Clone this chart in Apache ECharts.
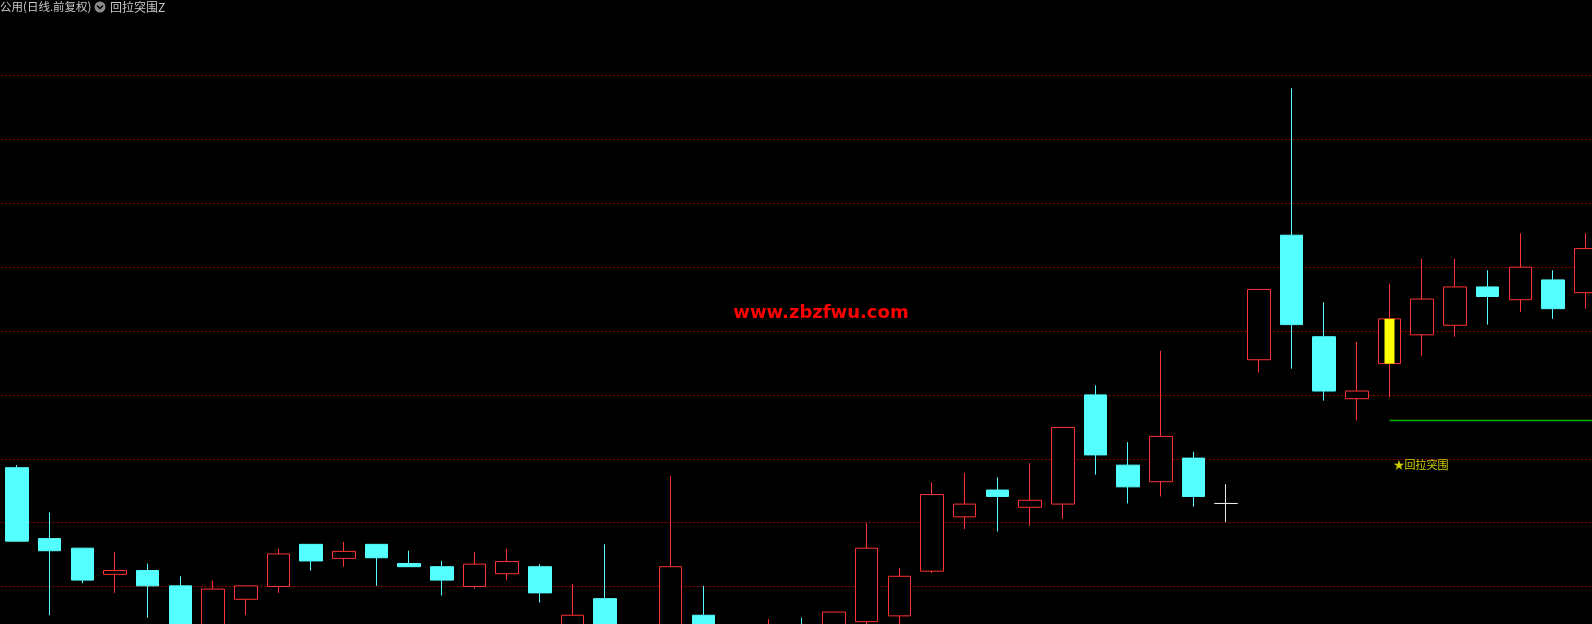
<!DOCTYPE html>
<html><head><meta charset="utf-8">
<script src="https://cdn.jsdelivr.net/npm/echarts@6/dist/echarts.min.js"></script>
<style>html,body{margin:0;padding:0;background:#000;}#c{width:1592px;height:624px;}</style>
</head><body><div id="c"></div>
<script>
// ---- data ----
const categories = Array.from({length: 50}, (_, i) => 'D' + (i + 1));
const opens  = [13.86,12.75,12.60,12.19,12.25,12.01,11.35,11.80,12.00,12.66,
                12.44,12.66,12.36,12.31,12.00,12.20,12.31,11.30,11.81,11.25,
                11.10,11.55,11.15,11.20,11.39,11.30,11.45,11.54,12.24,13.09,
                13.51,13.24,13.29,15.00,13.90,13.64,14.01,13.30,15.55,17.50,
                15.91,14.94,15.49,15.94,16.09,16.69,16.49,16.80,16.60];
const closes = [12.71,12.56,12.10,12.25,12.01,11.30,11.96,12.01,12.51,12.40,
                12.55,12.45,12.31,12.10,12.35,12.39,11.90,11.55,11.20,11.05,
                12.31,11.15,11.30,11.38,11.20,11.60,12.60,12.16,13.44,13.29,
                13.41,13.35,14.49,14.06,13.56,14.35,13.41,13.30,16.65,16.10,
                15.06,15.06,16.19,16.50,16.69,16.54,17.00,16.35,17.29];
const highs  = [13.90,13.16,12.60,12.54,12.36,12.16,12.09,12.01,12.59,12.66,
                12.70,12.66,12.56,12.40,12.54,12.59,12.35,12.04,12.66,11.35,
                13.73,12.01,11.38,11.49,11.51,11.60,12.99,12.29,13.63,13.78,
                13.71,13.93,14.49,15.15,14.26,15.69,14.11,13.60,16.65,19.80,
                16.45,15.83,16.74,17.13,17.13,16.95,17.53,16.95,17.53];
const lows   = [12.71,11.55,12.05,11.90,11.51,11.22,11.30,11.55,11.90,12.25,
                12.31,12.01,12.31,11.86,11.97,12.10,11.75,11.25,11.15,10.95,
                11.05,11.10,11.05,11.15,11.12,11.25,11.38,11.35,12.21,12.90,
                12.86,12.95,13.06,13.75,13.30,13.41,13.25,13.01,15.35,15.41,
                14.91,14.60,14.96,15.61,15.91,16.10,16.30,16.19,16.35];
const signalIndex = 42;          // highlighted (yellow) candle
const supportLevel = 14.60;      // green line level
const signalLabelValue = 13.90;  // where the signal text sits
const signalText = '★回拉突围';
const titleMain = '公用(日线.前复权)';
const titleIndicator = '回拉突围Z';
const watermark = 'www.zbzfwu.com';

// ---- build ----
const candleData = categories.map((_, i) =>
  i < opens.length ? [opens[i], closes[i], lows[i], highs[i]] : '-');
const signalData = categories.map((_, i) => i === signalIndex
  ? [opens[i], closes[i], Math.min(opens[i], closes[i]), Math.max(opens[i], closes[i])] : '-');
const greenLine = categories.map((_, i) => i >= signalIndex ? supportLevel : '-');

const chart = echarts.init(document.getElementById('c'), null, {renderer: 'canvas'});
chart.setOption({
  backgroundColor: '#000000',
  animation: false,
  grid: {left: 0.66, top: 11.625, width: 1634, height: 702.625, outerBoundsMode: 'none', containLabel: false},
  xAxis: {
    type: 'category', data: categories, boundaryGap: true,
    axisLine: {show: false}, axisTick: {show: false}, axisLabel: {show: false}, splitLine: {show: false}
  },
  yAxis: {
    type: 'value', min: 10, max: 21, interval: 1, scale: true,
    axisLine: {show: false}, axisTick: {show: false}, axisLabel: {show: false},
    splitLine: {show: true, showMinLine: false, showMaxLine: false,
      lineStyle: {color: '#A00000', type: [2, 2], width: 1}}
  },
  series: [
    {
      type: 'candlestick', data: candleData, barWidth: 23,
      itemStyle: {color: '#000000', color0: '#54FFFF', borderColor: '#FF3232',
        borderColor0: '#54FFFF', borderColorDoji: '#E8E8E8', borderWidth: 1},
      emphasis: {disabled: true}
    },
    {
      type: 'candlestick', data: signalData, barWidth: 10,
      itemStyle: {color: '#FFFF00', color0: '#FFFF00', borderColor: '#FFFF00', borderColor0: '#FFFF00', borderWidth: 0},
      emphasis: {disabled: true}
    },
    {
      type: 'line', data: greenLine, showSymbol: false, symbol: 'none',
      lineStyle: {color: '#00B000', width: 1.5}, emphasis: {disabled: true}
    },
    {
      type: 'scatter', data: [[signalIndex, signalLabelValue]], symbolSize: 0,
      label: {show: true, position: 'right', distance: 4, formatter: signalText,
        color: '#FFFF00', fontSize: 11, fontFamily: 'Noto Sans CJK SC'}
    }
  ],
  graphic: [
    {type: 'text', x: 0, y: 7, style: {text: titleMain, fill: '#C8C8C8',
      font: '11.5px "Noto Sans CJK SC"', verticalAlign: 'middle'}},
    {type: 'circle', shape: {cx: 100, cy: 7, r: 5.5}, style: {fill: '#8C8C8C'}},
    {type: 'polyline', shape: {points: [[97, 5.5], [100, 8.5], [103, 5.5]]},
      style: {stroke: '#000000', lineWidth: 1.5, fill: null}},
    {type: 'text', x: 110, y: 7, style: {text: titleIndicator, fill: '#C8C8C8',
      font: '12px "Noto Sans CJK SC"', verticalAlign: 'middle'}},
    {type: 'text', x: 821, y: 313, style: {text: watermark, fill: '#FF0000',
      font: 'bold 18px "DejaVu Sans"', align: 'center', verticalAlign: 'middle'}}
  ]
});
</script></body></html>
